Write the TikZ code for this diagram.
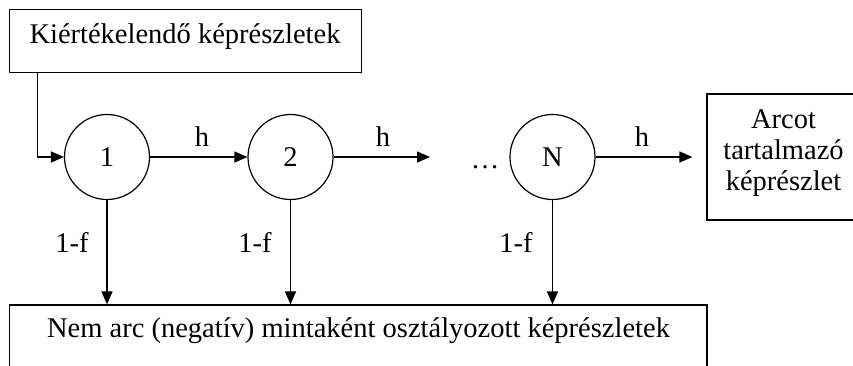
\documentclass[tikz,border=0pt]{standalone}
\usepackage{fontspec}
\setmainfont{Liberation Serif}
\usetikzlibrary{arrows.meta}
\begin{document}
\begin{tikzpicture}[x=1pt,y=-1pt,
  every node/.style={font=\fontsize{28.5}{31}\selectfont},
  boxx/.style={draw, line width=1.2pt, inner sep=0pt},
  circ/.style={draw, circle, line width=1.2pt, minimum size=85pt, inner sep=0pt},
  arr/.style={line width=1.2pt, -{Triangle[length=13pt,width=11pt]}},
  lbl/.style={inner sep=0pt, anchor=base}]
\useasboundingbox (0,0) rectangle (853,365);
% boxes
\node[boxx, minimum width=352pt, minimum height=63.5pt] (top) at (185.5,41) {};
\node[lbl] (toptxt) at (185,43.3) {Kiértékelendő képrészletek};
\node[boxx, minimum width=155pt, minimum height=126pt] (rbox) at (784.5,157) {};
\node[lbl] (rt1) at (783.5,128) {Arcot};
\node[lbl] (rt2) at (783.5,159) {tartalmazó};
\node[lbl] (rt3) at (783.5,190) {képrészlet};
\node[boxx, minimum width=697.5pt, minimum height=70pt] (bot) at (358.25,340) {};
\node[lbl] (bottxt) at (358.5,337) {Nem arc (negatív) mintaként osztályozott képrészletek};
% circles
\node[circ] (c1) at (107,157) {1};
\node[circ] (c2) at (290.5,157) {2};
\node[circ] (cN) at (552.5,157) {N};
\node[lbl] (dots) at (485,168) {…};
\coordinate (e2) at (430,157);
% connectors
\draw[arr] ([xshift=28.5pt]top.south west) |- (c1.west);
\draw[arr] (c1) -- (c2);
\draw[arr] (c2) -- (e2);
\draw[arr, shorten >=14pt] (cN) -- (rbox);
\draw[arr] (c1) -- (c1 |- bot.north);
\draw[arr] (c2) -- (c2 |- bot.north);
\draw[arr] (cN) -- (cN |- bot.north);
% labels
\node[lbl] (h1) at (202,146) {h};
\node[lbl] (h2) at (383,146) {h};
\node[lbl] (h3) at (642,146) {h};
\node[lbl] (f1) at (72,252) {1-f};
\node[lbl] (f2) at (255,252) {1-f};
\node[lbl] (f3) at (516,252) {1-f};
\end{tikzpicture}
\end{document}
